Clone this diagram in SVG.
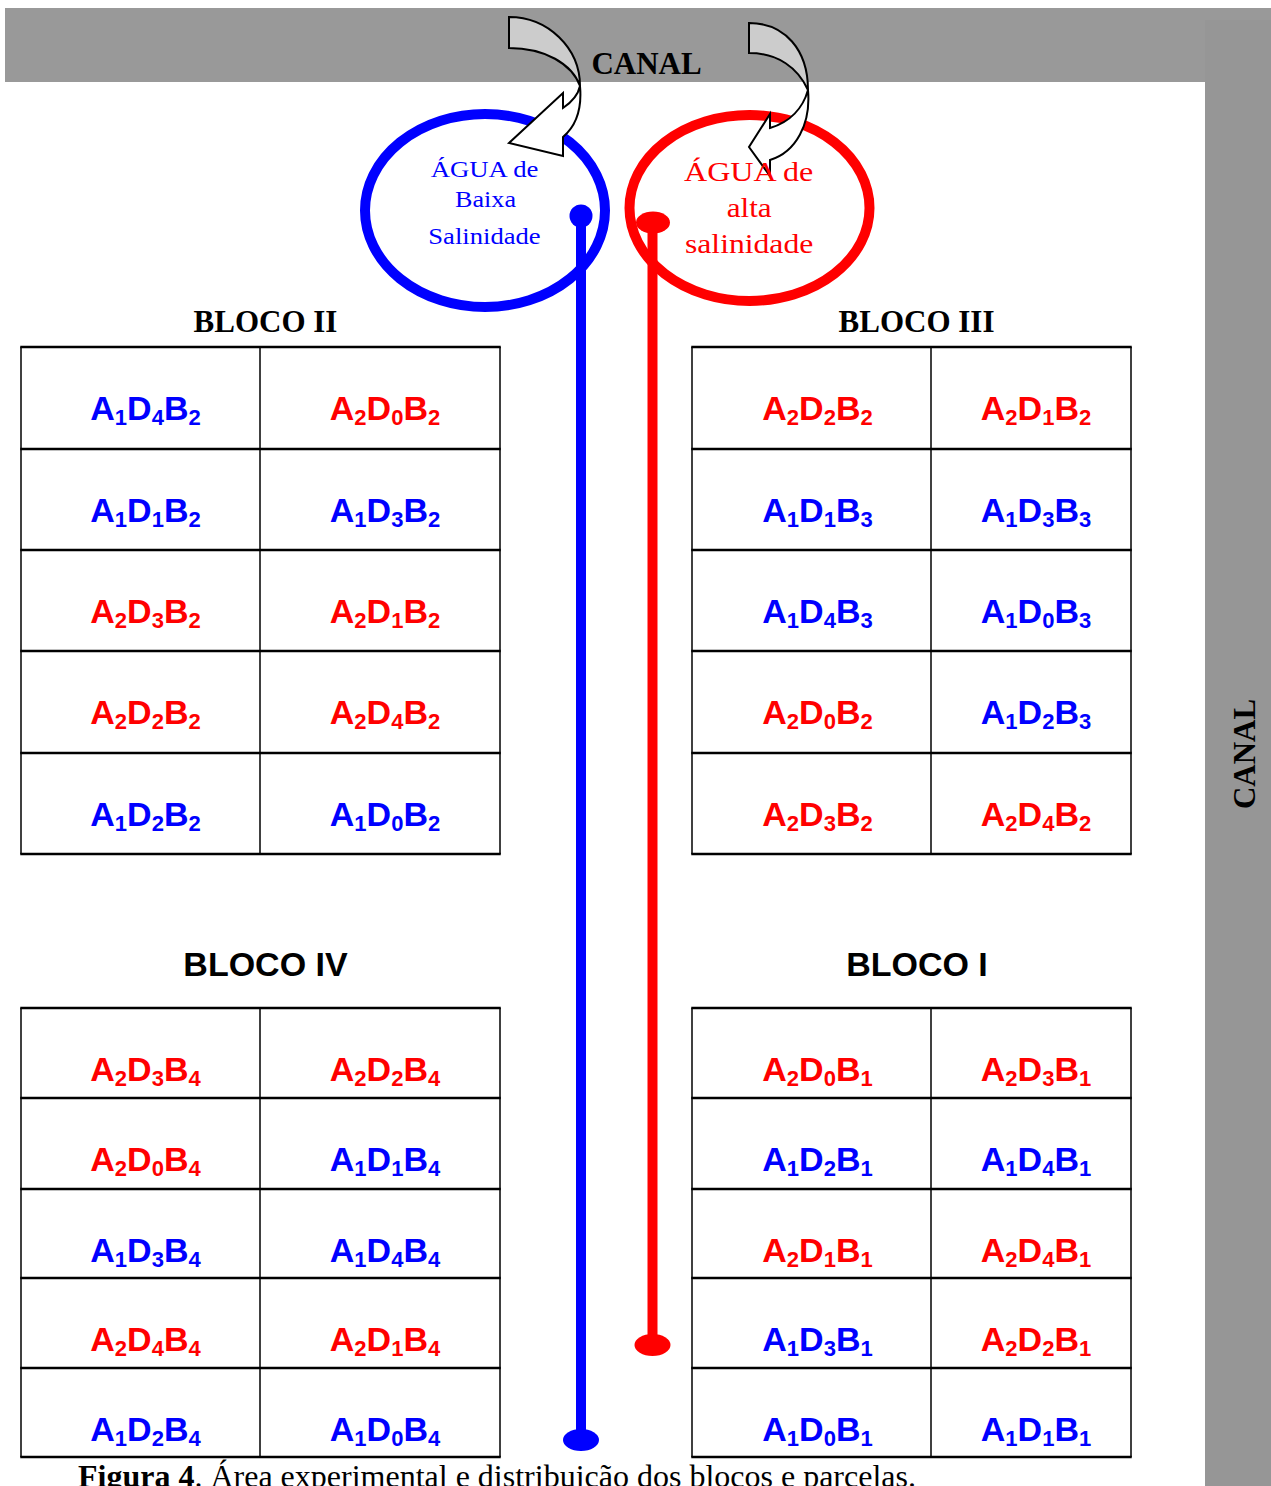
<svg xmlns="http://www.w3.org/2000/svg" width="1271" height="1486" viewBox="0 0 1271 1486">
  <style>
    .serif { font-family: "Liberation Serif", "Times New Roman", serif; }
    .bold { font-weight: bold; }
    .cell { font-family: "Liberation Sans", Arial, sans-serif; font-weight: bold; font-size: 34px; text-anchor: middle; }
    .s { font-size: 22px; }
    .blue { fill: #0000ff; }
    .red { fill: #ff0000; }
    .h { stroke: #000; stroke-width: 2.5; }
    .v { stroke: #000; stroke-width: 1.5; }
    .head2 { font-family: "Liberation Serif", "Times New Roman", serif; font-weight: bold; font-size: 31px; text-anchor: middle; }
    .head1 { font-family: "Liberation Sans", Arial, sans-serif; font-weight: bold; font-size: 34px; text-anchor: middle; }
    .arrowBody { fill: #cccccc; stroke: #000; stroke-width: 2; stroke-linejoin: miter; }
    .arrowHead { fill: #ffffff; stroke: #000; stroke-width: 2; stroke-linejoin: miter; }
  </style>
  <rect width="1271" height="1486" fill="#ffffff"/>

  <!-- irrigation canals -->
  <g id="canal-top">
    <rect x="5" y="8" width="1266" height="74" fill="#999999"/>
    <text x="646.5" y="74" class="serif bold" font-size="31" text-anchor="middle">CANAL</text>
  </g>
  <g id="canal-right">
    <rect x="1205" y="20" width="66" height="1466" fill="#969696"/>
    <text transform="translate(1255,754) rotate(-90)" class="serif bold" font-size="31" text-anchor="middle">CANAL</text>
  </g>

  <!-- water reservoirs -->
  <g id="reservoir-low">
    <ellipse cx="485" cy="210.5" rx="120" ry="96.5" fill="none" stroke="#0000ff" stroke-width="10"/>
  </g>
  <g id="reservoir-high">
    <ellipse cx="749.5" cy="208" rx="120" ry="93" fill="none" stroke="#ff0000" stroke-width="10"/>
  </g>

  <!-- supply pipes and inflow arrows -->
  <g id="connectors">
    <g id="pipe-low">
      <line x1="581" y1="216" x2="581" y2="1440" stroke="#0000ff" stroke-width="10"/>
      <circle cx="581" cy="216" r="11.5" fill="#0000ff"/>
      <ellipse cx="581" cy="1440" rx="18" ry="11" fill="#0000ff"/>
    </g>
    <g id="pipe-high">
      <line x1="652.5" y1="222" x2="652.5" y2="1345" stroke="#ff0000" stroke-width="10"/>
      <ellipse cx="653" cy="222.5" rx="17" ry="11" fill="#ff0000"/>
      <ellipse cx="652.5" cy="1345" rx="18" ry="11" fill="#ff0000"/>
    </g>
    <g id="inflow-low">
      <path class="arrowBody" d="M509,17 C548,17 580,48 580,86 C572,64 545,48 509,48 Z"/>
      <path class="arrowHead" d="M580,86 C582,108 576,126 563,137 L563,156 L509,143 L563,93 L563,108 C572,102 578,95 580,86 Z"/>
    </g>
    <g id="inflow-high">
      <path class="arrowBody" d="M749,23 C785,23 808,50 808,90 C798,68 778,53 749,53 Z"/>
      <path class="arrowHead" d="M808,90 C811,124 796,152 770,160 L770,176 L749,147 L770,114 L770,128 C790,122 803,108 808,90 Z"/>
    </g>
  </g>

  <!-- reservoir labels -->
  <g id="label-low" class="serif blue" font-size="23">
    <text x="430.7" y="177" textLength="107.7" lengthAdjust="spacingAndGlyphs">ÁGUA de</text>
    <text x="455" y="207" textLength="61" lengthAdjust="spacingAndGlyphs">Baixa</text>
    <text x="428.3" y="243.5" textLength="112.4" lengthAdjust="spacingAndGlyphs">Salinidade</text>
  </g>
  <g id="label-high" class="serif red" font-size="28">
    <text x="684" y="180.5" textLength="129.3" lengthAdjust="spacingAndGlyphs">ÁGUA de</text>
    <text x="726.7" y="217" textLength="45" lengthAdjust="spacingAndGlyphs">alta</text>
    <text x="685" y="252.5" textLength="128.3" lengthAdjust="spacingAndGlyphs">salinidade</text>
  </g>

  <!-- BLOCO II -->
  <g id="bloco-II">
    <text x="265.5" y="332" class="head2">BLOCO II</text>
    <g id="grid-II">
      <line class="h" x1="20.25" y1="347" x2="500.75" y2="347"/>
      <line class="h" x1="20.25" y1="449" x2="500.75" y2="449"/>
      <line class="h" x1="20.25" y1="550" x2="500.75" y2="550"/>
      <line class="h" x1="20.25" y1="651" x2="500.75" y2="651"/>
      <line class="h" x1="20.25" y1="753" x2="500.75" y2="753"/>
      <line class="h" x1="20.25" y1="854" x2="500.75" y2="854"/>
      <line class="v" x1="21" y1="347" x2="21" y2="854"/>
      <line class="v" x1="260" y1="347" x2="260" y2="854"/>
      <line class="v" x1="500" y1="347" x2="500" y2="854"/>
    </g>
    <g id="II-r1c1"><text x="145.5" y="420" class="cell blue">A<tspan class="s" dy="5">1</tspan><tspan dy="-5">D</tspan><tspan class="s" dy="5">4</tspan><tspan dy="-5">B</tspan><tspan class="s" dy="5">2</tspan></text></g>
    <g id="II-r1c2"><text x="385" y="420" class="cell red">A<tspan class="s" dy="5">2</tspan><tspan dy="-5">D</tspan><tspan class="s" dy="5">0</tspan><tspan dy="-5">B</tspan><tspan class="s" dy="5">2</tspan></text></g>
    <g id="II-r2c1"><text x="145.5" y="522" class="cell blue">A<tspan class="s" dy="5">1</tspan><tspan dy="-5">D</tspan><tspan class="s" dy="5">1</tspan><tspan dy="-5">B</tspan><tspan class="s" dy="5">2</tspan></text></g>
    <g id="II-r2c2"><text x="385" y="522" class="cell blue">A<tspan class="s" dy="5">1</tspan><tspan dy="-5">D</tspan><tspan class="s" dy="5">3</tspan><tspan dy="-5">B</tspan><tspan class="s" dy="5">2</tspan></text></g>
    <g id="II-r3c1"><text x="145.5" y="623" class="cell red">A<tspan class="s" dy="5">2</tspan><tspan dy="-5">D</tspan><tspan class="s" dy="5">3</tspan><tspan dy="-5">B</tspan><tspan class="s" dy="5">2</tspan></text></g>
    <g id="II-r3c2"><text x="385" y="623" class="cell red">A<tspan class="s" dy="5">2</tspan><tspan dy="-5">D</tspan><tspan class="s" dy="5">1</tspan><tspan dy="-5">B</tspan><tspan class="s" dy="5">2</tspan></text></g>
    <g id="II-r4c1"><text x="145.5" y="724" class="cell red">A<tspan class="s" dy="5">2</tspan><tspan dy="-5">D</tspan><tspan class="s" dy="5">2</tspan><tspan dy="-5">B</tspan><tspan class="s" dy="5">2</tspan></text></g>
    <g id="II-r4c2"><text x="385" y="724" class="cell red">A<tspan class="s" dy="5">2</tspan><tspan dy="-5">D</tspan><tspan class="s" dy="5">4</tspan><tspan dy="-5">B</tspan><tspan class="s" dy="5">2</tspan></text></g>
    <g id="II-r5c1"><text x="145.5" y="826" class="cell blue">A<tspan class="s" dy="5">1</tspan><tspan dy="-5">D</tspan><tspan class="s" dy="5">2</tspan><tspan dy="-5">B</tspan><tspan class="s" dy="5">2</tspan></text></g>
    <g id="II-r5c2"><text x="385" y="826" class="cell blue">A<tspan class="s" dy="5">1</tspan><tspan dy="-5">D</tspan><tspan class="s" dy="5">0</tspan><tspan dy="-5">B</tspan><tspan class="s" dy="5">2</tspan></text></g>
  </g>

  <!-- BLOCO III -->
  <g id="bloco-III">
    <text x="916.5" y="332" class="head2">BLOCO III</text>
    <g id="grid-III">
      <line class="h" x1="691.25" y1="347" x2="1131.75" y2="347"/>
      <line class="h" x1="691.25" y1="449" x2="1131.75" y2="449"/>
      <line class="h" x1="691.25" y1="550" x2="1131.75" y2="550"/>
      <line class="h" x1="691.25" y1="651" x2="1131.75" y2="651"/>
      <line class="h" x1="691.25" y1="753" x2="1131.75" y2="753"/>
      <line class="h" x1="691.25" y1="854" x2="1131.75" y2="854"/>
      <line class="v" x1="692" y1="347" x2="692" y2="854"/>
      <line class="v" x1="931" y1="347" x2="931" y2="854"/>
      <line class="v" x1="1131" y1="347" x2="1131" y2="854"/>
    </g>
    <g id="III-r1c1"><text x="817.5" y="420" class="cell red">A<tspan class="s" dy="5">2</tspan><tspan dy="-5">D</tspan><tspan class="s" dy="5">2</tspan><tspan dy="-5">B</tspan><tspan class="s" dy="5">2</tspan></text></g>
    <g id="III-r1c2"><text x="1036" y="420" class="cell red">A<tspan class="s" dy="5">2</tspan><tspan dy="-5">D</tspan><tspan class="s" dy="5">1</tspan><tspan dy="-5">B</tspan><tspan class="s" dy="5">2</tspan></text></g>
    <g id="III-r2c1"><text x="817.5" y="522" class="cell blue">A<tspan class="s" dy="5">1</tspan><tspan dy="-5">D</tspan><tspan class="s" dy="5">1</tspan><tspan dy="-5">B</tspan><tspan class="s" dy="5">3</tspan></text></g>
    <g id="III-r2c2"><text x="1036" y="522" class="cell blue">A<tspan class="s" dy="5">1</tspan><tspan dy="-5">D</tspan><tspan class="s" dy="5">3</tspan><tspan dy="-5">B</tspan><tspan class="s" dy="5">3</tspan></text></g>
    <g id="III-r3c1"><text x="817.5" y="623" class="cell blue">A<tspan class="s" dy="5">1</tspan><tspan dy="-5">D</tspan><tspan class="s" dy="5">4</tspan><tspan dy="-5">B</tspan><tspan class="s" dy="5">3</tspan></text></g>
    <g id="III-r3c2"><text x="1036" y="623" class="cell blue">A<tspan class="s" dy="5">1</tspan><tspan dy="-5">D</tspan><tspan class="s" dy="5">0</tspan><tspan dy="-5">B</tspan><tspan class="s" dy="5">3</tspan></text></g>
    <g id="III-r4c1"><text x="817.5" y="724" class="cell red">A<tspan class="s" dy="5">2</tspan><tspan dy="-5">D</tspan><tspan class="s" dy="5">0</tspan><tspan dy="-5">B</tspan><tspan class="s" dy="5">2</tspan></text></g>
    <g id="III-r4c2"><text x="1036" y="724" class="cell blue">A<tspan class="s" dy="5">1</tspan><tspan dy="-5">D</tspan><tspan class="s" dy="5">2</tspan><tspan dy="-5">B</tspan><tspan class="s" dy="5">3</tspan></text></g>
    <g id="III-r5c1"><text x="817.5" y="826" class="cell red">A<tspan class="s" dy="5">2</tspan><tspan dy="-5">D</tspan><tspan class="s" dy="5">3</tspan><tspan dy="-5">B</tspan><tspan class="s" dy="5">2</tspan></text></g>
    <g id="III-r5c2"><text x="1036" y="826" class="cell red">A<tspan class="s" dy="5">2</tspan><tspan dy="-5">D</tspan><tspan class="s" dy="5">4</tspan><tspan dy="-5">B</tspan><tspan class="s" dy="5">2</tspan></text></g>
  </g>

  <!-- BLOCO IV -->
  <g id="bloco-IV">
    <text x="265.5" y="976" class="head1">BLOCO IV</text>
    <g id="grid-IV">
      <line class="h" x1="20.25" y1="1008" x2="500.75" y2="1008"/>
      <line class="h" x1="20.25" y1="1098" x2="500.75" y2="1098"/>
      <line class="h" x1="20.25" y1="1189" x2="500.75" y2="1189"/>
      <line class="h" x1="20.25" y1="1278" x2="500.75" y2="1278"/>
      <line class="h" x1="20.25" y1="1368" x2="500.75" y2="1368"/>
      <line class="h" x1="20.25" y1="1457" x2="500.75" y2="1457"/>
      <line class="v" x1="21" y1="1008" x2="21" y2="1457"/>
      <line class="v" x1="260" y1="1008" x2="260" y2="1457"/>
      <line class="v" x1="500" y1="1008" x2="500" y2="1457"/>
    </g>
    <g id="IV-r1c1"><text x="145.5" y="1081" class="cell red">A<tspan class="s" dy="5">2</tspan><tspan dy="-5">D</tspan><tspan class="s" dy="5">3</tspan><tspan dy="-5">B</tspan><tspan class="s" dy="5">4</tspan></text></g>
    <g id="IV-r1c2"><text x="385" y="1081" class="cell red">A<tspan class="s" dy="5">2</tspan><tspan dy="-5">D</tspan><tspan class="s" dy="5">2</tspan><tspan dy="-5">B</tspan><tspan class="s" dy="5">4</tspan></text></g>
    <g id="IV-r2c1"><text x="145.5" y="1171" class="cell red">A<tspan class="s" dy="5">2</tspan><tspan dy="-5">D</tspan><tspan class="s" dy="5">0</tspan><tspan dy="-5">B</tspan><tspan class="s" dy="5">4</tspan></text></g>
    <g id="IV-r2c2"><text x="385" y="1171" class="cell blue">A<tspan class="s" dy="5">1</tspan><tspan dy="-5">D</tspan><tspan class="s" dy="5">1</tspan><tspan dy="-5">B</tspan><tspan class="s" dy="5">4</tspan></text></g>
    <g id="IV-r3c1"><text x="145.5" y="1262" class="cell blue">A<tspan class="s" dy="5">1</tspan><tspan dy="-5">D</tspan><tspan class="s" dy="5">3</tspan><tspan dy="-5">B</tspan><tspan class="s" dy="5">4</tspan></text></g>
    <g id="IV-r3c2"><text x="385" y="1262" class="cell blue">A<tspan class="s" dy="5">1</tspan><tspan dy="-5">D</tspan><tspan class="s" dy="5">4</tspan><tspan dy="-5">B</tspan><tspan class="s" dy="5">4</tspan></text></g>
    <g id="IV-r4c1"><text x="145.5" y="1351" class="cell red">A<tspan class="s" dy="5">2</tspan><tspan dy="-5">D</tspan><tspan class="s" dy="5">4</tspan><tspan dy="-5">B</tspan><tspan class="s" dy="5">4</tspan></text></g>
    <g id="IV-r4c2"><text x="385" y="1351" class="cell red">A<tspan class="s" dy="5">2</tspan><tspan dy="-5">D</tspan><tspan class="s" dy="5">1</tspan><tspan dy="-5">B</tspan><tspan class="s" dy="5">4</tspan></text></g>
    <g id="IV-r5c1"><text x="145.5" y="1441" class="cell blue">A<tspan class="s" dy="5">1</tspan><tspan dy="-5">D</tspan><tspan class="s" dy="5">2</tspan><tspan dy="-5">B</tspan><tspan class="s" dy="5">4</tspan></text></g>
    <g id="IV-r5c2"><text x="385" y="1441" class="cell blue">A<tspan class="s" dy="5">1</tspan><tspan dy="-5">D</tspan><tspan class="s" dy="5">0</tspan><tspan dy="-5">B</tspan><tspan class="s" dy="5">4</tspan></text></g>
  </g>

  <!-- BLOCO I -->
  <g id="bloco-I">
    <text x="917" y="976" class="head1">BLOCO I</text>
    <g id="grid-I">
      <line class="h" x1="691.25" y1="1008" x2="1131.75" y2="1008"/>
      <line class="h" x1="691.25" y1="1098" x2="1131.75" y2="1098"/>
      <line class="h" x1="691.25" y1="1189" x2="1131.75" y2="1189"/>
      <line class="h" x1="691.25" y1="1278" x2="1131.75" y2="1278"/>
      <line class="h" x1="691.25" y1="1368" x2="1131.75" y2="1368"/>
      <line class="h" x1="691.25" y1="1457" x2="1131.75" y2="1457"/>
      <line class="v" x1="692" y1="1008" x2="692" y2="1457"/>
      <line class="v" x1="931" y1="1008" x2="931" y2="1457"/>
      <line class="v" x1="1131" y1="1008" x2="1131" y2="1457"/>
    </g>
    <g id="I-r1c1"><text x="817.5" y="1081" class="cell red">A<tspan class="s" dy="5">2</tspan><tspan dy="-5">D</tspan><tspan class="s" dy="5">0</tspan><tspan dy="-5">B</tspan><tspan class="s" dy="5">1</tspan></text></g>
    <g id="I-r1c2"><text x="1036" y="1081" class="cell red">A<tspan class="s" dy="5">2</tspan><tspan dy="-5">D</tspan><tspan class="s" dy="5">3</tspan><tspan dy="-5">B</tspan><tspan class="s" dy="5">1</tspan></text></g>
    <g id="I-r2c1"><text x="817.5" y="1171" class="cell blue">A<tspan class="s" dy="5">1</tspan><tspan dy="-5">D</tspan><tspan class="s" dy="5">2</tspan><tspan dy="-5">B</tspan><tspan class="s" dy="5">1</tspan></text></g>
    <g id="I-r2c2"><text x="1036" y="1171" class="cell blue">A<tspan class="s" dy="5">1</tspan><tspan dy="-5">D</tspan><tspan class="s" dy="5">4</tspan><tspan dy="-5">B</tspan><tspan class="s" dy="5">1</tspan></text></g>
    <g id="I-r3c1"><text x="817.5" y="1262" class="cell red">A<tspan class="s" dy="5">2</tspan><tspan dy="-5">D</tspan><tspan class="s" dy="5">1</tspan><tspan dy="-5">B</tspan><tspan class="s" dy="5">1</tspan></text></g>
    <g id="I-r3c2"><text x="1036" y="1262" class="cell red">A<tspan class="s" dy="5">2</tspan><tspan dy="-5">D</tspan><tspan class="s" dy="5">4</tspan><tspan dy="-5">B</tspan><tspan class="s" dy="5">1</tspan></text></g>
    <g id="I-r4c1"><text x="817.5" y="1351" class="cell blue">A<tspan class="s" dy="5">1</tspan><tspan dy="-5">D</tspan><tspan class="s" dy="5">3</tspan><tspan dy="-5">B</tspan><tspan class="s" dy="5">1</tspan></text></g>
    <g id="I-r4c2"><text x="1036" y="1351" class="cell red">A<tspan class="s" dy="5">2</tspan><tspan dy="-5">D</tspan><tspan class="s" dy="5">2</tspan><tspan dy="-5">B</tspan><tspan class="s" dy="5">1</tspan></text></g>
    <g id="I-r5c1"><text x="817.5" y="1441" class="cell blue">A<tspan class="s" dy="5">1</tspan><tspan dy="-5">D</tspan><tspan class="s" dy="5">0</tspan><tspan dy="-5">B</tspan><tspan class="s" dy="5">1</tspan></text></g>
    <g id="I-r5c2"><text x="1036" y="1441" class="cell blue">A<tspan class="s" dy="5">1</tspan><tspan dy="-5">D</tspan><tspan class="s" dy="5">1</tspan><tspan dy="-5">B</tspan><tspan class="s" dy="5">1</tspan></text></g>
  </g>

  <!-- caption -->
  <text x="78" y="1487" class="serif" font-size="32"><tspan font-weight="bold">Figura 4</tspan>. Área experimental e distribuição dos blocos e parcelas.</text>
</svg>
